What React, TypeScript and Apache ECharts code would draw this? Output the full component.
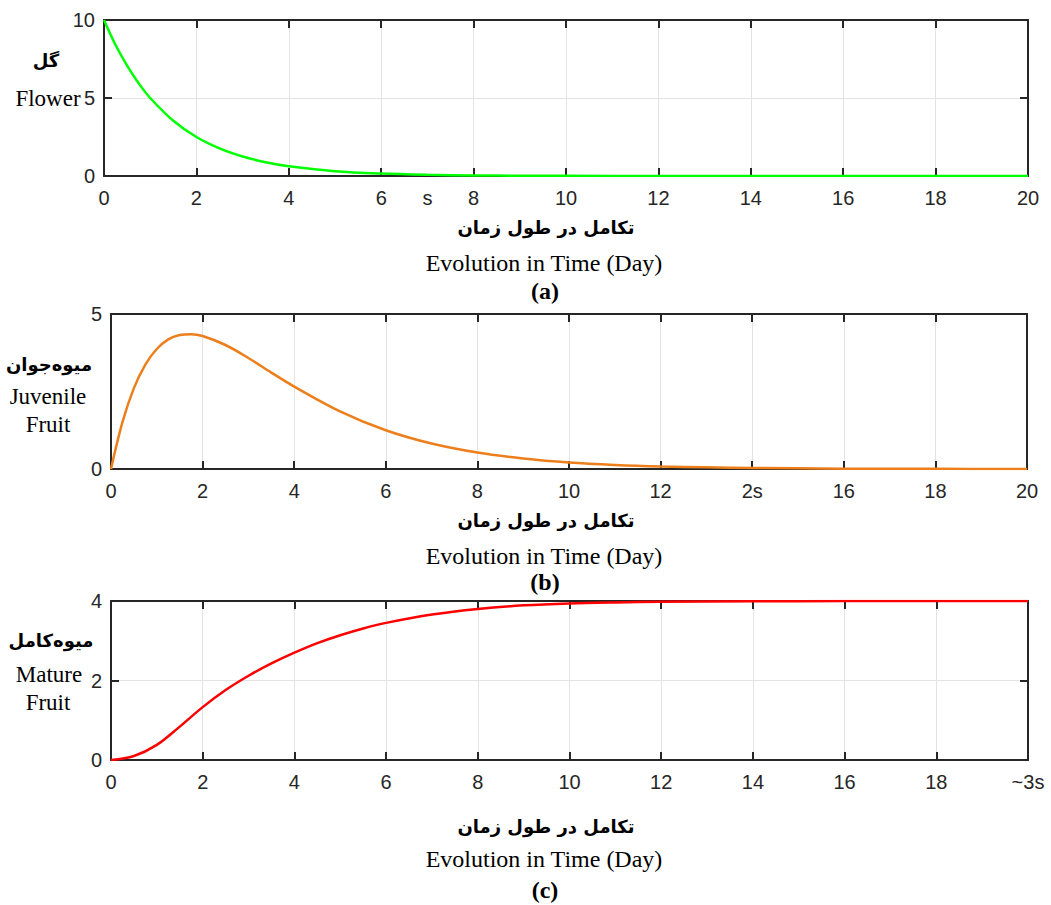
import React, { useEffect, useRef } from "react";
import * as echarts from "echarts";

// ---- data ----
const tA = [0, 0.25, 0.5, 0.75, 1, 1.5, 2, 2.5, 3, 3.5, 4, 5, 6, 7, 8, 9, 10, 12, 14, 16, 18, 20];
const flower = [10, 8.4, 7.08, 5.95, 5.0, 3.54, 2.5, 1.77, 1.25, 0.88, 0.62, 0.31, 0.156, 0.078, 0.039, 0.02, 0.01, 0.0025, 0.0006, 0, 0, 0];

const tB = [0, 0.25, 0.5, 0.75, 1, 1.25, 1.5, 1.75, 2, 2.5, 3, 3.5, 4, 5, 6, 7, 8, 9, 10, 11, 12, 13, 14, 16, 18, 20];
const juvenile = [0, 1.51, 2.61, 3.37, 3.87, 4.18, 4.32, 4.35, 4.29, 4.0, 3.58, 3.11, 2.66, 1.86, 1.25, 0.82, 0.53, 0.34, 0.21, 0.13, 0.08, 0.055, 0.034, 0.012, 0.0046, 0.0017];

const tC = [0, 0.5, 1, 1.5, 2, 2.5, 3, 3.5, 4, 4.5, 5, 5.5, 6, 7, 8, 9, 10, 11, 12, 14, 16, 18, 20];
const mature = [0, 0.1, 0.38, 0.84, 1.33, 1.76, 2.12, 2.43, 2.7, 2.94, 3.14, 3.31, 3.45, 3.66, 3.8, 3.89, 3.94, 3.965, 3.98, 3.993, 3.998, 4.0, 4.0];

const xTicks = { min: 0, max: 20, interval: 2 };
const yA = { min: 0, max: 10, interval: 5 };
const yB = { min: 0, max: 5, interval: 5 };
const yC = { min: 0, max: 4, interval: 2 };

const sansFont = "'Liberation Sans', Arial, sans-serif";
const serifFont = "'Liberation Serif', 'Times New Roman', serif";
const faFont = "'DejaVu Sans', sans-serif";

const axisColor = "#262626";
const gridColor = "#e3e3e3";

function pairs(t: number[], v: number[]) {
  return t.map((x, i) => [x, v[i]]);
}

export default function App() {
  const ref = useRef<HTMLDivElement>(null);
  useEffect(() => {
    if (!ref.current) return;
    const chart = echarts.init(ref.current, undefined, { renderer: "svg" });

    const grids = [
      { left: 104, right: 23, top: 20, height: 156 },
      { left: 111, right: 24, top: 314, height: 155 },
      { left: 111, right: 23, top: 601, height: 159 },
    ];
    const yRanges = [yA, yB, yC];
    const xFormat = [
      (v: number) => String(v),
      (v: number) => (v === 14 ? "2s" : String(v)),
      (v: number) => (v === 20 ? "~3s" : String(v)),
    ];

    const xAxes: any[] = [];
    const yAxes: any[] = [];
    grids.forEach((_, gi) => {
      xAxes.push({
        type: "value",
        gridIndex: gi,
        position: "bottom",
        ...xTicks,
        axisLine: { show: true, onZero: false, lineStyle: { color: axisColor, width: 2 } },
        axisTick: { show: true, inside: true, length: 8, lineStyle: { color: axisColor, width: 2 } },
        axisLabel: {
          show: true,
          margin: 12,
          color: axisColor,
          fontFamily: sansFont,
          fontSize: 20,
          formatter: xFormat[gi],
        },
        splitLine: { show: true, lineStyle: { color: gridColor, width: 1 } },
      });
      xAxes.push({
        type: "value",
        gridIndex: gi,
        position: "top",
        ...xTicks,
        axisLine: { show: true, onZero: false, lineStyle: { color: axisColor, width: 2 } },
        axisTick: { show: true, inside: true, length: 8, lineStyle: { color: axisColor, width: 2 } },
        axisLabel: { show: false },
        splitLine: { show: false },
      });
      yAxes.push({
        type: "value",
        gridIndex: gi,
        position: "left",
        ...yRanges[gi],
        axisLine: { show: true, onZero: false, lineStyle: { color: axisColor, width: 2 } },
        axisTick: { show: true, inside: true, length: 8, lineStyle: { color: axisColor, width: 2 } },
        axisLabel: { show: true, margin: 9, color: axisColor, fontFamily: sansFont, fontSize: 20 },
        splitLine: { show: true, lineStyle: { color: gridColor, width: 1 } },
      });
      yAxes.push({
        type: "value",
        gridIndex: gi,
        position: "right",
        ...yRanges[gi],
        axisLine: { show: true, onZero: false, lineStyle: { color: axisColor, width: 2 } },
        axisTick: { show: true, inside: true, length: 8, lineStyle: { color: axisColor, width: 2 } },
        axisLabel: { show: false },
        splitLine: { show: false },
      });
    });
    // extra label "s" at x = 7 on panel (a)
    xAxes.push({
      type: "value",
      gridIndex: 0,
      position: "bottom",
      min: 0,
      max: 20,
      interval: 1,
      axisLine: { show: false },
      axisTick: { show: false },
      splitLine: { show: false },
      axisLabel: {
        show: true,
        margin: 12,
        color: axisColor,
        fontFamily: sansFont,
        fontSize: 20,
        formatter: (v: number) => (v === 7 ? "s" : ""),
      },
    });

    const lineSeries = (xi: number, yi: number, data: number[][], color: string) => ({
      type: "line",
      xAxisIndex: xi,
      yAxisIndex: yi,
      data,
      showSymbol: false,
      smooth: 0.35,
      lineStyle: { color, width: 2.5 },
      z: 5,
    });

    const txt = (text: string, x: number, y: number, font: string, size: number, bold = false) => ({
      type: "text",
      x,
      y,
      style: {
        text,
        fill: "#000",
        fontFamily: font,
        fontSize: size,
        fontWeight: bold ? "bold" : "normal",
        textAlign: "center",
        textVerticalAlign: "middle",
      },
    });

    const faTitle = "تکامل در طول زمان";
    const enTitle = "Evolution in Time (Day)";

    chart.setOption({
      animation: false,
      backgroundColor: "#ffffff",
      grid: grids.map((g) => ({ ...g, containLabel: false })),
      xAxis: xAxes,
      yAxis: yAxes,
      series: [
        lineSeries(0, 0, pairs(tA, flower), "#00ff00"),
        lineSeries(2, 2, pairs(tB, juvenile), "#ec7f1c"),
        lineSeries(4, 4, pairs(tC, mature), "#ff0000"),
      ],
      graphic: [
        // panel a
        txt("گل", 46, 60, faFont, 18, true),
        txt("Flower", 48, 98, serifFont, 23),
        txt(faTitle, 546, 227, faFont, 18, true),
        txt(enTitle, 544, 263, serifFont, 24),
        txt("(a)", 545, 291, serifFont, 24, true),
        // panel b
        txt("میوه\u200cجوان", 49, 364, faFont, 18, true),
        txt("Juvenile", 48, 396, serifFont, 23),
        txt("Fruit", 48, 424, serifFont, 23),
        txt(faTitle, 546, 520, faFont, 18, true),
        txt(enTitle, 544, 556, serifFont, 24),
        txt("(b)", 545, 582, serifFont, 24, true),
        // panel c
        txt("میوه\u200cکامل", 51, 640, faFont, 18, true),
        txt("Mature", 49, 674, serifFont, 23),
        txt("Fruit", 48, 702, serifFont, 23),
        txt(faTitle, 546, 826, faFont, 18, true),
        txt(enTitle, 544, 859, serifFont, 24),
        txt("(c)", 545, 890, serifFont, 24, true),
      ],
    });

    return () => chart.dispose();
  }, []);

  return (
    <div
      ref={ref}
      style={{ position: "absolute", left: 0, top: 0, width: 1051, height: 905 }}
    />
  );
}
